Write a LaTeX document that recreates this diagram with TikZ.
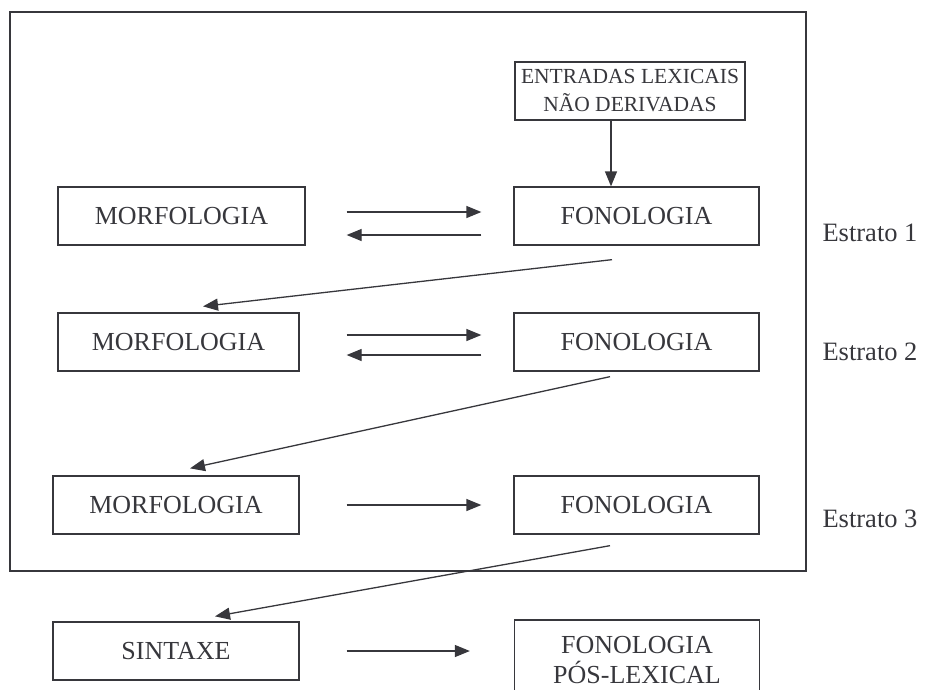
\documentclass[tikz,border=0pt]{standalone}
\usepackage{fontspec}
\setmainfont{Liberation Serif}
\usetikzlibrary{positioning,arrows.meta,calc}
\definecolor{linegray}{RGB}{55,55,60}

\begin{document}
\begin{tikzpicture}[x=1pt, y=-1pt, >={Triangle[length=15pt,width=12pt]}]
    \tikzstyle{box} = [rectangle, draw=linegray, line width=1.3pt, minimum width=245pt, minimum height=58pt, inner sep=2pt, text centered, align=center, font=\fontsize{26}{30}\selectfont, text=linegray]
    \tikzstyle{label} = [font=\fontsize{26.5}{30}\selectfont, text=linegray]
    \tikzstyle{link} = [->, draw=linegray, line width=1.3pt]

    \useasboundingbox (0,0) rectangle (925,689);
    \clip (0,0) rectangle (925,689);

    % moldura lexical
    \draw [draw=linegray, line width=1.6pt] (10,12) rectangle (806,571);

    \node [box, minimum width=230pt, font=\fontsize{21.5}{28}\selectfont] (entradas) at (630,91) {ENTRADAS LEXICAIS\\ NÃO DERIVADAS};

    \node [box, minimum width=247pt] (morf1) at (181.5,216) {MORFOLOGIA};
    \node [box] (fon1) at (636.5,216) {FONOLOGIA};
    \node [box, minimum width=241pt] (morf2) at (178.5,342) {MORFOLOGIA};
    \node [box] (fon2) at (636.5,342) {FONOLOGIA};
    \node [box, minimum width=246pt] (morf3) at (176,505) {MORFOLOGIA};
    \node [box] (fon3) at (636.5,505) {FONOLOGIA};
    \node [box, minimum width=246pt] (sint) at (176,651) {SINTAXE};
    \node [box, minimum height=80pt] (poslex) at (637,660) {FONOLOGIA\\ PÓS-LEXICAL};

    \node [label] (estr1) at (870,233) {Estrato 1};
    \node [label] (estr2) at (870,352) {Estrato 2};
    \node [label] (estr3) at (870,519) {Estrato 3};

    \coordinate (arrowx) at (611,0);
    \draw [link] (entradas.south -| arrowx) -- (fon1.north -| arrowx);

    \draw [link] ([xshift=41pt,yshift=4pt]morf1.east) -- ([xshift=-32pt,yshift=4pt]fon1.west);
    \draw [link] ([xshift=-32pt,yshift=-19pt]fon1.west) -- ([xshift=41pt,yshift=-19pt]morf1.east);
    \draw [link] ([xshift=-24.5pt,yshift=-14pt]fon1.south) -- ([xshift=24.5pt,yshift=6pt]morf2.north);

    \draw [link] ([xshift=47pt,yshift=7pt]morf2.east) -- ([xshift=-32pt,yshift=7pt]fon2.west);
    \draw [link] ([xshift=-32pt,yshift=-13pt]fon2.west) -- ([xshift=47pt,yshift=-13pt]morf2.east);
    \draw [link] ([xshift=-26.5pt,yshift=-5pt]fon2.south) -- ([xshift=14pt,yshift=7pt]morf3.north);

    \draw [link] ([xshift=47pt]morf3.east) -- ([xshift=-32pt]fon3.west);
    \draw [link] ([xshift=-26.5pt,yshift=-11pt]fon3.south) -- ([xshift=39pt,yshift=5pt]sint.north);

    \draw [link] ([xshift=47pt]sint.east) -- ([xshift=-44pt]poslex.west |- sint.east);
\end{tikzpicture}
\end{document}
